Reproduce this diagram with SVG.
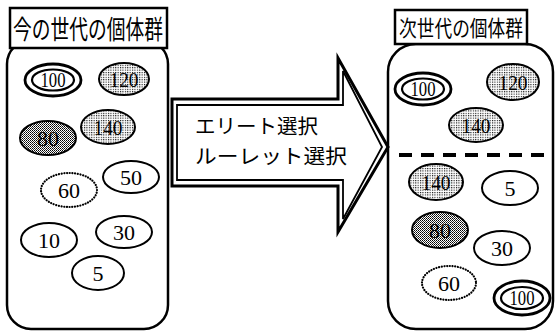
<svg xmlns="http://www.w3.org/2000/svg" width="557" height="331" viewBox="0 0 557 331">
<defs>
<pattern id="light" width="2.4" height="2.4" patternUnits="userSpaceOnUse">
<rect width="2.4" height="2.4" fill="#fff"/>
<rect width="1.1" height="1.1" fill="#000"/>
</pattern>
<pattern id="dark" width="2" height="2" patternUnits="userSpaceOnUse">
<rect width="2" height="2" fill="#fff"/>
<rect width="1" height="1" fill="#000"/>
<rect x="1" y="1" width="1" height="1" fill="#333"/>
</pattern>
<style>
.box{fill:#fff;stroke:#000;stroke-width:2.5}
.cont{fill:#fff;stroke:#000;stroke-width:2.5}
.title{font-family:"Noto Sans CJK JP","Noto Sans CJK SC",sans-serif;font-size:26px;fill:#000}
.lab{font-family:"Noto Sans CJK JP","Noto Sans CJK SC",sans-serif;font-size:20px;fill:#000}
.num{font-family:"Liberation Serif","Times New Roman",serif;font-size:22px;fill:#000;text-anchor:middle}
.e{fill:#fff;stroke:#000;stroke-width:2}
.lt{fill:url(#light);stroke:#000;stroke-width:2}
.dk{fill:url(#dark);stroke:#000;stroke-width:2}
.dot{fill:#fff;stroke:#000;stroke-width:2.2;stroke-dasharray:0.1 2.6;stroke-linecap:round}
.dbl{fill:#fff;stroke:#000;stroke-width:2.8}
.dbli{fill:none;stroke:#000;stroke-width:2.2}
</style>
</defs>

<g id="current-population">
<rect class="cont" x="7" y="40" width="161" height="289" rx="24"/>
<rect class="box" x="10" y="8" width="157" height="40"/>
<text class="title" x="13" y="39" textLength="150" lengthAdjust="spacingAndGlyphs">今の世代の個体群</text>
</g>

<g id="next-population">
<rect class="cont" x="388" y="44" width="165" height="285" rx="28"/>
<rect class="box" x="395" y="10" width="132" height="34"/>
<text class="title" x="399" y="36" style="font-size:22px" textLength="124" lengthAdjust="spacingAndGlyphs">次世代の個体群</text>
<line x1="399" y1="155" x2="553" y2="155" stroke="#000" stroke-width="4" stroke-dasharray="13 9"/>
</g>

<g id="selection-arrow">
<polygon points="172,99 338,99 338,58 388,147 338,232 338,186 172,186" fill="#fff" stroke="#000" stroke-width="3"/>
<polygon points="177,105 343,105 343,71 382,147 343,219 343,180 177,180" fill="none" stroke="#000" stroke-width="1.8"/>
<text class="lab" x="195" y="134" textLength="123" lengthAdjust="spacingAndGlyphs">エリート選択</text>
<text class="lab" x="195" y="164" textLength="152" lengthAdjust="spacingAndGlyphs">ルーレット選択</text>
</g>

<g id="left-individuals">
<g id="l100"><ellipse class="dbl" cx="53" cy="80" rx="28" ry="16"/><ellipse class="dbli" cx="53" cy="80" rx="21" ry="10.5"/><text class="num" x="53" y="87" textLength="25" lengthAdjust="spacingAndGlyphs">100</text></g>
<g id="l120"><ellipse class="lt" cx="124" cy="79" rx="25" ry="16"/><text class="num" x="124" y="87" textLength="29" lengthAdjust="spacingAndGlyphs">120</text></g>
<g id="l140"><ellipse class="lt" cx="108" cy="127" rx="27" ry="17"/><text class="num" x="108" y="135" textLength="29" lengthAdjust="spacingAndGlyphs">140</text></g>
<g id="l80"><ellipse class="dk" cx="48" cy="138" rx="28" ry="17"/><text class="num" x="48" y="146">80</text></g>
<g id="l50"><ellipse class="e" cx="131" cy="177" rx="28" ry="16"/><text class="num" x="131" y="185">50</text></g>
<g id="l60"><ellipse class="dot" cx="69" cy="190" rx="28" ry="17"/><text class="num" x="69" y="198">60</text></g>
<g id="l30"><ellipse class="e" cx="124" cy="232" rx="28" ry="16"/><text class="num" x="124" y="240">30</text></g>
<g id="l10"><ellipse class="e" cx="49" cy="240" rx="28" ry="17"/><text class="num" x="49" y="248">10</text></g>
<g id="l5"><ellipse class="e" cx="98" cy="273" rx="26" ry="17"/><text class="num" x="98" y="281">5</text></g>
</g>

<g id="right-individuals">
<g id="r100a"><ellipse class="dbl" cx="423" cy="89" rx="28" ry="16"/><ellipse class="dbli" cx="423" cy="89" rx="21" ry="10.5"/><text class="num" x="423" y="96" textLength="25" lengthAdjust="spacingAndGlyphs">100</text></g>
<g id="r120"><ellipse class="lt" cx="513" cy="82" rx="26" ry="18"/><text class="num" x="513" y="90" textLength="29" lengthAdjust="spacingAndGlyphs">120</text></g>
<g id="r140a"><ellipse class="lt" cx="476" cy="125" rx="27" ry="17"/><text class="num" x="476" y="133" textLength="29" lengthAdjust="spacingAndGlyphs">140</text></g>
<g id="r140b"><ellipse class="lt" cx="436" cy="182" rx="27" ry="18"/><text class="num" x="436" y="190" textLength="29" lengthAdjust="spacingAndGlyphs">140</text></g>
<g id="r5"><ellipse class="e" cx="510" cy="188" rx="28" ry="17"/><text class="num" x="510" y="196">5</text></g>
<g id="r80"><ellipse class="dk" cx="440" cy="230" rx="28" ry="18"/><text class="num" x="440" y="238">80</text></g>
<g id="r30"><ellipse class="e" cx="502" cy="248" rx="28" ry="17"/><text class="num" x="502" y="256">30</text></g>
<g id="r60"><ellipse class="dot" cx="449" cy="283" rx="27" ry="17"/><text class="num" x="449" y="291">60</text></g>
<g id="r100b"><ellipse class="dbl" cx="522" cy="298" rx="28" ry="17"/><ellipse class="dbli" cx="522" cy="298" rx="21" ry="11"/><text class="num" x="522" y="305" textLength="25" lengthAdjust="spacingAndGlyphs">100</text></g>
</g>
</svg>
